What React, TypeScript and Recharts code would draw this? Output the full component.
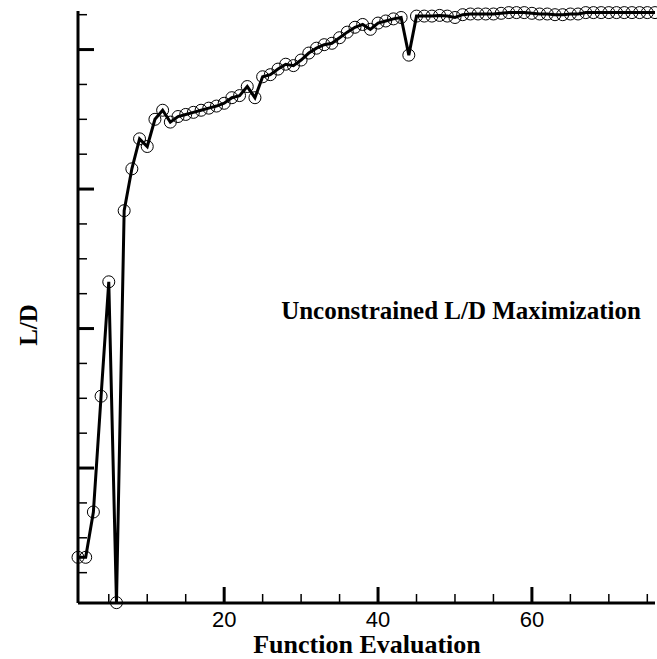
import { LineChart, Line, XAxis, YAxis } from 'recharts'

// function evaluation index and L/D value
const evals = [
  1, 2, 3, 4, 5, 6, 7, 8, 9, 10, 11, 12, 13, 14, 15, 16, 17, 18, 19, 20,
  21, 22, 23, 24, 25, 26, 27, 28, 29, 30, 31, 32, 33, 34, 35, 36, 37, 38, 39, 40,
  41, 42, 43, 44, 45, 46, 47, 48, 49, 50, 51, 52, 53, 54, 55, 56, 57, 58, 59, 60,
  61, 62, 63, 64, 65, 66, 67, 68, 69, 70, 71, 72, 73, 74, 75, 76,
]
const liftDrag = [
  2.72, 2.72, 3.37, 5.03, 6.67, 2.07, 7.69, 8.29, 8.72, 8.61,
  9.0, 9.13, 8.96, 9.04, 9.07, 9.1, 9.13, 9.16, 9.19, 9.23,
  9.31, 9.34, 9.47, 9.31, 9.61, 9.64, 9.72, 9.79, 9.77, 9.85,
  9.95, 10.02, 10.07, 10.09, 10.17, 10.25, 10.32, 10.36, 10.29, 10.38,
  10.41, 10.44, 10.46, 9.92, 10.48, 10.48, 10.48, 10.49, 10.48, 10.46,
  10.5, 10.51, 10.51, 10.51, 10.51, 10.52, 10.53, 10.53, 10.53, 10.52,
  10.51, 10.51, 10.5, 10.5, 10.51, 10.51, 10.53, 10.53, 10.53, 10.53,
  10.53, 10.53, 10.53, 10.53, 10.53, 10.53,
]
const xTicks = [5, 10, 15, 20, 25, 30, 35, 40, 45, 50, 55, 60, 65, 70, 75]
const xLabels = [20, 40, 60]
const yTicks = [
  2.5, 3, 3.5, 4, 4.5, 5, 5.5, 6, 6.5, 7, 7.5, 8, 8.5, 9, 9.5, 10, 10.5,
]
const yMajor = [4, 6, 8, 10]

const data = evals.map((x, i) => ({ x, ld: liftDrag[i] }))

const XTick = ({ x, y, payload }: any) => {
  const major = xLabels.includes(payload.value)
  return (
    <g>
      <line x1={x} x2={x} y1={y} y2={y - (major ? 16 : 9)} stroke='#000' strokeWidth={major ? 3 : 1.5} />
      {major && (
        <text
          x={x}
          y={y + 24}
          textAnchor='middle'
          fill='#000'
          style={{ fontFamily: 'Liberation Sans, Arial, sans-serif', fontSize: 22 }}
        >
          {payload.value}
        </text>
      )}
    </g>
  )
}

const YTick = ({ x, y, payload }: any) => {
  const major = yMajor.includes(payload.value)
  return (
    <line x1={x} x2={x + (major ? 16 : 9)} y1={y} y2={y} stroke='#000' strokeWidth={major ? 3 : 1.5} />
  )
}

const serif = {
  fontFamily: 'Liberation Serif, Times New Roman, serif',
  fontWeight: 'bold' as const,
  lineHeight: 1,
  position: 'absolute' as const,
  whiteSpace: 'nowrap' as const,
}

export default function App() {
  return (
    <div style={{ position: 'relative', width: 657, height: 659, background: '#fff' }}>
      <style>{`body{margin:0}`}</style>
      <LineChart width={657} height={659} data={data} margin={{ top: 11, right: 2, bottom: 55, left: 77 }}>
        <XAxis
          dataKey='x'
          type='number'
          domain={[1, 76]}
          ticks={xTicks}
          interval={0}
          height={1}
          tickSize={0}
          tickMargin={0}
          tickLine={false}
          tick={<XTick />}
          axisLine={{ stroke: '#000', strokeWidth: 3 }}
        />
        <YAxis
          type='number'
          domain={[2.065, 10.553]}
          ticks={yTicks}
          interval={0}
          width={1}
          tickSize={0}
          tickMargin={0}
          tickLine={false}
          tick={<YTick />}
          axisLine={{ stroke: '#000', strokeWidth: 3 }}
        />
        <Line
          dataKey='ld'
          stroke='#000'
          strokeWidth={3}
          dot={{ r: 6, stroke: '#000', strokeWidth: 1, fill: 'none' }}
          isAnimationActive={false}
        />
      </LineChart>
      <div style={{ ...serif, fontSize: 25, left: 461, top: 310, transform: 'translate(-50%,-50%)' }}>
        Unconstrained L/D Maximization
      </div>
      <div style={{ ...serif, fontSize: 26, left: 367, top: 645, transform: 'translate(-50%,-50%)' }}>
        Function Evaluation
      </div>
      <div style={{ ...serif, fontSize: 25, left: 28, top: 325, transform: 'translate(-50%,-50%) rotate(-90deg)' }}>
        L/D
      </div>
    </div>
  )
}
